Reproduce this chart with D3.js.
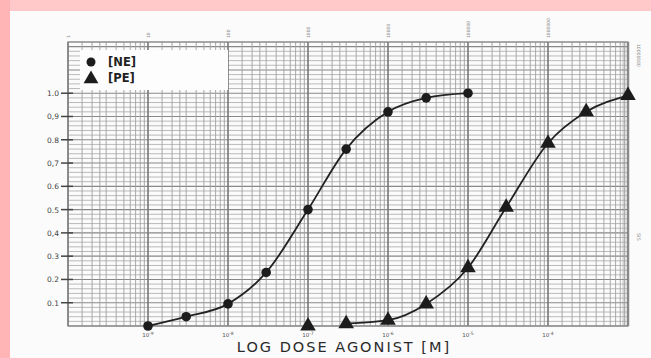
<!DOCTYPE html>
<html>
<head>
<meta charset="utf-8">
<script src="https://cdn.jsdelivr.net/npm/d3@7"></script>
<style>
  html, body { margin: 0; padding: 0; background: #fbfbfb; }
  svg { display: block; }
</style>
</head>
<body>
<svg id="chart" width="651" height="358"></svg>
<script>
// dose (M) and fractional response
const neDose = [1e-9, 3e-9, 1e-8, 3e-8, 1e-7, 3e-7, 1e-6, 3e-6, 1e-5]
const neResp = [0.0, 0.04, 0.095, 0.23, 0.5, 0.76, 0.92, 0.98, 1.0]
const peDose = [1e-7, 3e-7, 1e-6, 3e-6, 1e-5, 3e-5, 1e-4, 3e-4, 1e-3]
const peResp = [0.0, 0.01, 0.025, 0.095, 0.25, 0.51, 0.785, 0.92, 0.99]

const yTicks = [0.1, 0.2, 0.3, 0.4, 0.5, 0.6, 0.7, 0.8, 0.9, 1.0]
const yTickLabels = ["0.1", "0.2", "0.3", "0,4", "0.5", "0.6", "0,7", "0.8", "0,9", "1.0"]
const xTickExps = [-9, -8, -7, -6, -5, -4]
const topLabels = ["1", "10", "100", "1000", "10000", "100000", "1000000", "10000000"]
const legendNames = ["[NE]", "[PE]"]

const margin = {top: 42, right: 23, bottom: 32, left: 68}
const width = 651, height = 358

const x = d3.scaleLog().domain([1e-10, 1e-3]).range([margin.left, width - margin.right])
const y = d3.scaleLinear().domain([0, 1.22]).range([height - margin.bottom, margin.top])

const svg = d3.select('#chart')

// pink frame of the screenshot
svg.append("rect").attr("x", 0).attr("y", 0).attr("width", width).attr("height", 11).attr("fill", "#ffc9c9")
svg.append("rect").attr("x", 0).attr("y", 0).attr("width", 10).attr("height", height).attr("fill", "#ffb5b5")

const grid = svg.append("g")

// faint shadow on the right of the paper
grid.append("rect")
  .attr("x", x(1e-3) - 6).attr("y", y(1.22))
  .attr("width", 8).attr("height", y(0) - y(1.22))
  .attr("fill", "#e0e0e0")

// horizontal rulings every 0.02
const hLines = d3.range(0, 62).map(i => i * 0.02)
grid.selectAll(".h").data(hLines).enter().append("line")
  .attr("x1", x(1e-10)).attr("x2", x(1e-3))
  .attr("y1", d => y(d)).attr("y2", d => y(d))
  .attr("stroke", (d, i) => i % 5 === 0 ? "#888" : "#aaa")
  .attr("stroke-width", (d, i) => i % 5 === 0 ? 1.1 : 0.8)

// log rulings
const mults = [1, 1.5, 2, 2.5, 3, 4, 5, 6, 7, 8, 9]
const vLines = []
d3.range(-10, -3).forEach(e => mults.forEach(m => vLines.push({v: m * Math.pow(10, e), major: m === 1})))
vLines.push({v: 1e-3, major: true})
grid.selectAll(".v").data(vLines).enter().append("line")
  .attr("x1", d => x(d.v)).attr("x2", d => x(d.v))
  .attr("y1", y(0)).attr("y2", y(1.22))
  .attr("stroke", d => d.major ? "#777" : "#a0a0a0")
  .attr("stroke-width", d => d.major ? 1.6 : 0.9)

// paper border
grid.append("rect")
  .attr("x", x(1e-10)).attr("y", y(1.22))
  .attr("width", x(1e-3) - x(1e-10)).attr("height", y(0) - y(1.22))
  .attr("fill", "none").attr("stroke", "#888").attr("stroke-width", 1.2)

// tiny printed decade numbers above the paper
grid.selectAll(".top").data(topLabels.slice(0, 7)).enter().append("text")
  .attr("transform", (d, i) => `translate(${x(Math.pow(10, -10 + i)) + 2},${margin.top - 4}) rotate(-90)`)
  .attr("font-family", "DejaVu Sans").attr("font-size", 4.5).attr("fill", "#888")
  .text(d => d)
grid.append("text")
  .attr("transform", `translate(${width - 14},${margin.top + 2}) rotate(90)`)
  .attr("font-family", "DejaVu Sans").attr("font-size", 4.5).attr("fill", "#888")
  .text(topLabels[7])
grid.append("text")
  .attr("transform", `translate(${width - 14},${y(0.4)}) rotate(90)`)
  .attr("font-family", "DejaVu Sans").attr("font-size", 5).attr("fill", "#999")
  .text("SIS")

// y axis, handwritten style ticks
const yAxis = svg.append("g")
yAxis.selectAll("line").data(yTicks).enter().append("line")
  .attr("x1", margin.left - 7).attr("x2", margin.left + 5)
  .attr("y1", d => y(d)).attr("y2", d => y(d))
  .attr("stroke", "#444").attr("stroke-width", 1.5)
yAxis.selectAll("text").data(yTicks).enter().append("text")
  .attr("x", margin.left - 9).attr("y", d => y(d) + 3)
  .attr("text-anchor", "end")
  .attr("font-family", "DejaVu Sans").attr("font-size", 7.5).attr("fill", "#444")
  .text((d, i) => yTickLabels[i])

// x decade labels
const xLab = svg.append("g").selectAll("text").data(xTickExps).enter().append("text")
  .attr("x", d => x(Math.pow(10, d))).attr("y", height - margin.bottom + 11)
  .attr("text-anchor", "middle")
  .attr("font-family", "DejaVu Sans").attr("font-size", 5.5).attr("fill", "#555")
xLab.append("tspan").text("10")
xLab.append("tspan").attr("dy", -2).attr("font-size", 4.5).text(d => "-" + Math.abs(d))

svg.append("text")
  .attr("x", 344).attr("y", 352)
  .attr("text-anchor", "middle")
  .attr("font-family", "DejaVu Sans").attr("font-size", 14.5).attr("letter-spacing", 2)
  .attr("fill", "#2a2a2a")
  .text("LOG DOSE AGONIST [M]")

// curves
const line = d3.line().x(d => x(d[0])).y(d => y(d[1])).curve(d3.curveMonotoneX)
const neData = neDose.map((d, i) => [d, neResp[i]])
const peData = peDose.map((d, i) => [d, peResp[i]])

svg.append("path").attr("d", line(neData))
  .attr("fill", "none").attr("stroke", "#222").attr("stroke-width", 1.8)
svg.append("path").attr("d", line(peData.slice(1)))
  .attr("fill", "none").attr("stroke", "#222").attr("stroke-width", 1.8)

svg.selectAll(".ne").data(neData).enter().append("circle")
  .attr("cx", d => x(d[0])).attr("cy", d => y(d[1])).attr("r", 4.8)
  .attr("fill", "#1c1c1c")

const tri = d3.symbol().type(d3.symbolTriangle).size(105)
svg.selectAll(".pe").data(peData).enter().append("path")
  .attr("d", tri)
  .attr("transform", d => `translate(${x(d[0])},${y(d[1])})`)
  .attr("fill", "#1c1c1c")

// legend
const lg = svg.append("g")
lg.append("rect").attr("x", 80).attr("y", 50).attr("width", 148).attr("height", 40).attr("fill", "#fdfdfd")
lg.append("circle").attr("cx", 91).attr("cy", 62).attr("r", 4.5).attr("fill", "#1c1c1c")
lg.append("path").attr("d", d3.symbol().type(d3.symbolTriangle).size(95)).attr("transform", "translate(91,79)").attr("fill", "#1c1c1c")
lg.selectAll("text").data(legendNames).enter().append("text")
  .attr("x", 108).attr("y", (d, i) => 66 + i * 16)
  .attr("font-family", "DejaVu Sans").attr("font-weight", "bold").attr("font-size", 11.5)
  .attr("fill", "#222")
  .text(d => d)
</script>
</body>
</html>
